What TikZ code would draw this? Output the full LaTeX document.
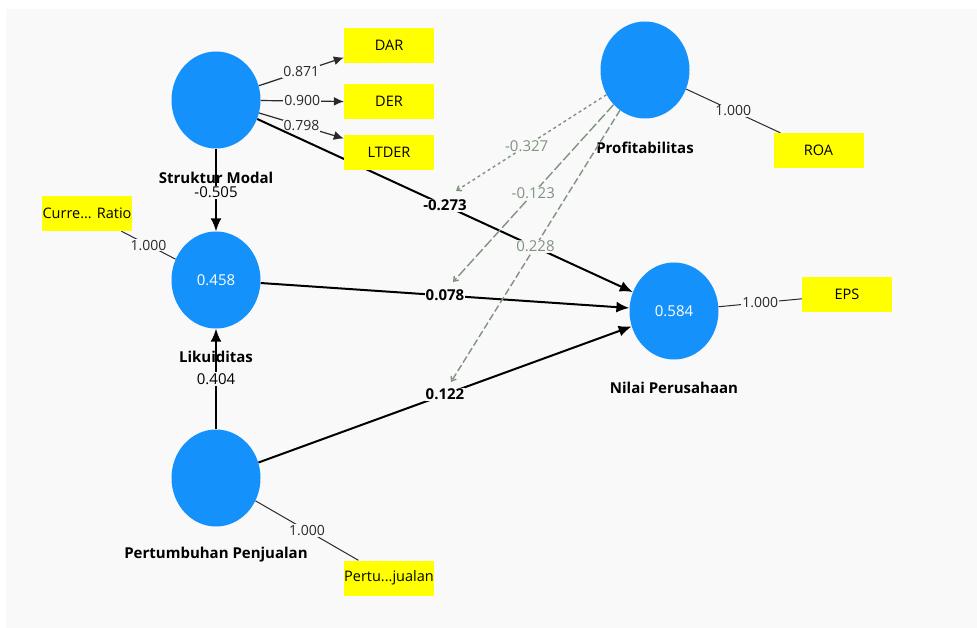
\documentclass[tikz,border=0pt]{standalone}
\usepackage{fontspec}
\setmainfont{Open Sans}
\usetikzlibrary{shapes.geometric,arrows.meta,calc}
\definecolor{bgc}{HTML}{F9F9F9}
\definecolor{lvblue}{HTML}{1591FC}
\definecolor{ind}{HTML}{FFFF00}
\definecolor{modc}{HTML}{7F937F}
\definecolor{ldc}{HTML}{2A2A2A}
\pgfdeclarelayer{backlayer}
\pgfdeclarelayer{edgelayer}
\pgfsetlayers{backlayer,edgelayer,main}
\begin{document}
\begin{tikzpicture}[x=1pt,y=-1pt,
 lv/.style={ellipse, fill=lvblue, minimum width=89pt, minimum height=97pt, inner sep=0pt, text=white, font=\fontsize{15}{17}\selectfont},
 mv/.style={rectangle, fill=ind, minimum width=90pt, minimum height=35pt, inner sep=0pt, font=\fontsize{14.5}{16}\selectfont},
 lvname/.style={font=\fontsize{15}{17}\selectfont\bfseries},
 innerpath/.style={line width=2pt, -{Latex[length=13pt,width=11pt]}},
 outerarr/.style={line width=1.2pt, draw=ldc, -{Latex[length=10pt,width=9pt]}},
 loadline/.style={line width=1pt, draw=ldc},
 modline/.style={line width=1.4pt, draw=modc, dash pattern=on 7pt off 3pt, -{Straight Barb[length=4pt,width=6pt]}},
 clbl/.style={fill=bgc, inner sep=1pt, font=\fontsize{15}{17}\selectfont\bfseries},
 vlbl/.style={fill=bgc, inner sep=1pt, font=\fontsize{15}{17}\selectfont},
 olbl/.style={fill=bgc, inner sep=1pt, text=ldc, font=\fontsize{14}{16}\selectfont},
 mlbl/.style={fill=bgc, inner sep=1pt, text=modc, font=\fontsize{15}{17}\selectfont},
]
\useasboundingbox (0,0) rectangle (977,628);
\begin{pgfonlayer}{backlayer}
\fill[bgc] (6,9) rectangle (977,628);
\end{pgfonlayer}

% latent variables
\node[lv] (sm) at (216,100) {};
\node[lv] (lk) at (216,280) {0.458};
\node[lv] (pp) at (216,478) {};
\node[lv] (pr) at (645,70) {};
\node[lv] (np) at (674,311) {0.584};

% indicators
\node[mv] (dar) at (389,45.5) {DAR};
\node[mv] (der) at (389,101.5) {DER};
\node[mv] (ltder) at (389,152.5) {LTDER};
\node[mv] (cr) at (87,213.5) {Curre... Ratio};
\node[mv] (ptj) at (389,578) {Pertu...jualan};
\node[mv] (roa) at (818.5,150.5) {ROA};
\node[mv] (eps) at (847,294.5) {EPS};

\begin{pgfonlayer}{edgelayer}
% construct names
\node[lvname] (smn) at (216,178) {Struktur Modal};
\node[lvname] (lkn) at (216,357) {Likuiditas};
\node[lvname] (ppn) at (216,555) {Pertumbuhan Penjualan};
\node[lvname] (prn) at (645,148) {Profitabilitas};
\node[lvname] (npn) at (674,388) {Nilai Perusahaan};

% outer loadings (reflective)
\draw[outerarr] (sm) -- ([yshift=-12pt]dar.west) node[pos=0.5, olbl] {0.871};
\draw[outerarr] (sm) -- (der.west) node[pos=0.5, olbl] {0.900};
\draw[outerarr] (sm) -- ([yshift=14pt]ltder.west) node[pos=0.5, olbl] {0.798};
\draw[loadline] (lk) -- (cr) node[midway, olbl] {1.000};
\draw[loadline] (pp) -- (ptj) node[midway, olbl] {1.000};
\draw[loadline] (pr) -- (roa) node[midway, olbl] {1.000};
\draw[loadline] (np) -- (eps) node[midway, olbl] {1.000};

% inner model
\draw[innerpath] (sm) -- (np) node[pos=0.5, clbl] (l273) {-0.273};
\draw[innerpath] (lk) -- (np) node[pos=0.5, clbl] (l078) {0.078};
\draw[innerpath] (pp) -- (np) node[pos=0.5, clbl] (l122) {0.122};
\draw[innerpath] (sm) -- (lk) node[pos=0.53, vlbl] {-0.505};
\draw[innerpath] (pp) -- (lk) node[pos=0.5, vlbl] {0.404};

% moderating effects
\coordinate (m1) at ([xshift=11pt,yshift=7pt]l273.north);
\coordinate (m2) at ([xshift=8pt,yshift=6pt]l078.north);
\coordinate (m3) at ([xshift=6pt,yshift=5pt]l122.north);
\draw[modline, dash pattern=on 3pt off 3pt] (pr) -- (m1) node[pos=0.53, mlbl] {-0.327};
\draw[modline, dash pattern=on 10pt off 3pt] (pr) -- (m2) node[pos=0.5, mlbl] {-0.123};
\draw[modline] (pr) -- (m3) node[pos=0.5, mlbl] {0.228};
\end{pgfonlayer}
\end{tikzpicture}
\end{document}
